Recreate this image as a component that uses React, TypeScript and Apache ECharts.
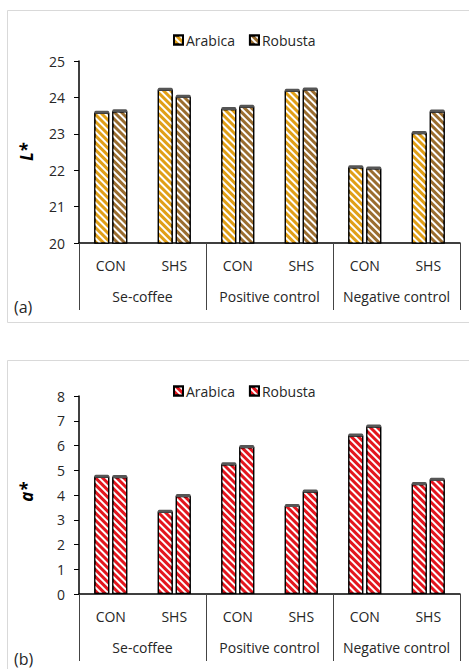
import React, { useEffect, useRef } from "react";
import * as echarts from "echarts";

const subCategories = ["CON", "SHS", "CON", "SHS", "CON", "SHS"];
const groupCategories = ["Se-coffee", "Positive control", "Negative control"];
const seriesNames = ["Arabica", "Robusta"];

const lArabica = [23.58, 24.21, 23.68, 24.18, 22.08, 23.02];
const lRobusta = [23.62, 24.02, 23.74, 24.22, 22.05, 23.61];
const lTicks = { min: 20, max: 25, interval: 1 };

const aArabica = [4.74, 3.32, 5.24, 3.56, 6.4, 4.44];
const aRobusta = [4.73, 3.96, 5.94, 4.14, 6.77, 4.62];
const aTicks = { min: 0, max: 8, interval: 1 };

const FONT = "'Open Sans', sans-serif";
const TXT = "#262626";
const BAR_W = 15;
const GAP = 3;

function stripe(color: string) {
  return {
    color,
    borderColor: "#000",
    borderWidth: 1.2,
    decal: {
      symbol: "rect",
      symbolSize: 1,
      color: "#ffffff",
      dashArrayX: [1, 0],
      dashArrayY: [2, 3],
      rotation: Math.PI / 4,
    },
  };
}

function buildOption(
  a: number[],
  r: number[],
  ticks: { min: number; max: number; interval: number },
  colors: string[],
  yName: string,
  panelTag: string,
  g: { top: number; bottom: number; borderTop: number; legendTop: number; tagY: number; nameY: number; height: number }
) {
  const capData: number[][] = [];
  a.forEach((v, i) => capData.push([i, v, 0]));
  r.forEach((v, i) => capData.push([i, v, 1]));
  return {
    animation: false,
    graphic: [
      {
        type: "rect",
        silent: true,
        shape: { x: 7.5, y: g.borderTop + 0.5, width: 480, height: g.height },
        style: { fill: "none", stroke: "#d9d9d9", lineWidth: 1 },
      },
      {
        type: "text",
        x: 14,
        y: g.tagY,
        style: { text: panelTag, font: `16px ${FONT}`, fill: TXT, textVerticalAlign: "middle" },
      },
      {
        type: "text",
        x: 26,
        y: g.nameY,
        rotation: Math.PI / 2,
        style: {
          text: yName,
          font: `italic bold 17px ${FONT}`,
          fill: "#000",
          textAlign: "center",
          textVerticalAlign: "middle",
        },
      },
    ],
    legend: {
      data: seriesNames,
      top: g.legendTop,
      left: 168,
      itemWidth: 9,
      itemHeight: 9,
      itemGap: 14,
      icon: "rect",
      textStyle: { fontFamily: FONT, fontSize: 14, color: TXT, padding: [0, 0, 0, -2] },
    },
    grid: { left: 79, right: 9, top: g.top, bottom: g.bottom },
    xAxis: [
      {
        type: "category",
        data: subCategories,
        axisLine: { lineStyle: { color: "#000", width: 1.5 } },
        axisTick: { show: false },
        axisLabel: { interval: 0, margin: 15, fontFamily: FONT, fontSize: 14, color: TXT },
      },
      {
        type: "category",
        data: groupCategories,
        position: "bottom",
        axisLine: { show: false },
        axisTick: { show: true, interval: 0, length: 67, lineStyle: { color: "#444", width: 1 } },
        axisLabel: { interval: 0, margin: 46, fontFamily: FONT, fontSize: 14, color: TXT },
      },
    ],
    yAxis: {
      type: "value",
      min: ticks.min,
      max: ticks.max,
      interval: ticks.interval,
      splitLine: { show: false },
      axisLine: { show: true, lineStyle: { color: "#000", width: 1.5 } },
      axisTick: { show: true, length: 5, lineStyle: { color: "#000" } },
      axisLabel: { margin: 14, fontFamily: FONT, fontSize: 14, color: TXT },
    },
    series: [
      {
        name: seriesNames[0],
        type: "bar",
        data: a,
        barWidth: BAR_W,
        barGap: `${(GAP / BAR_W) * 100}%`,
        itemStyle: stripe(colors[0]),
      },
      {
        name: seriesNames[1],
        type: "bar",
        data: r,
        barWidth: BAR_W,
        itemStyle: stripe(colors[1]),
      },
      {
        name: "cap",
        type: "custom",
        data: capData,
        z: 5,
        silent: true,
        encode: { x: 0, y: 1 },
        renderItem: (_p: any, api: any) => {
          const cat = api.value(0);
          const v = api.value(1);
          const s = api.value(2);
          const pt = api.coord([cat, v]);
          const off = (s === 0 ? -1 : 1) * ((BAR_W + GAP) / 2);
          return {
            type: "rect",
            shape: { x: pt[0] + off - BAR_W / 2, y: pt[1] - 2, width: BAR_W, height: 3, r: 1.5 },
            style: { fill: "#555" },
          };
        },
      },
    ],
  };
}

function Panel({ top, height, option }: { top: number; height: number; option: any }) {
  const ref = useRef<HTMLDivElement>(null);
  useEffect(() => {
    if (!ref.current) return;
    const chart = echarts.init(ref.current, undefined, { renderer: "svg" });
    chart.setOption(option);
    return () => chart.dispose();
  }, [option]);
  return (
    <div
      ref={ref}
      style={{ position: "absolute", left: 0, top, width: 469, height, background: "#fff" }}
    />
  );
}

const optA = buildOption(lArabica, lRobusta, lTicks, ["#E09F17", "#9A6D30"], "L*", "(a)", {
  top: 61,
  bottom: 335 - 243,
  borderTop: 10,
  legendTop: 28,
  tagY: 307,
  nameY: 152,
  height: 312,
});

const optB = buildOption(aArabica, aRobusta, aTicks, ["#E3161E", "#E3161E"], "a*", "(b)", {
  top: 61,
  bottom: 334 - 259,
  borderTop: 25,
  legendTop: 44,
  tagY: 324,
  nameY: 157,
  height: 400,
});

export default function App() {
  return (
    <div style={{ position: "absolute", left: 0, top: 0, width: 469, height: 669, background: "#fff", overflow: "hidden" }}>
      <Panel top={0} height={335} option={optA} />
      <Panel top={335} height={334} option={optB} />
    </div>
  );
}
